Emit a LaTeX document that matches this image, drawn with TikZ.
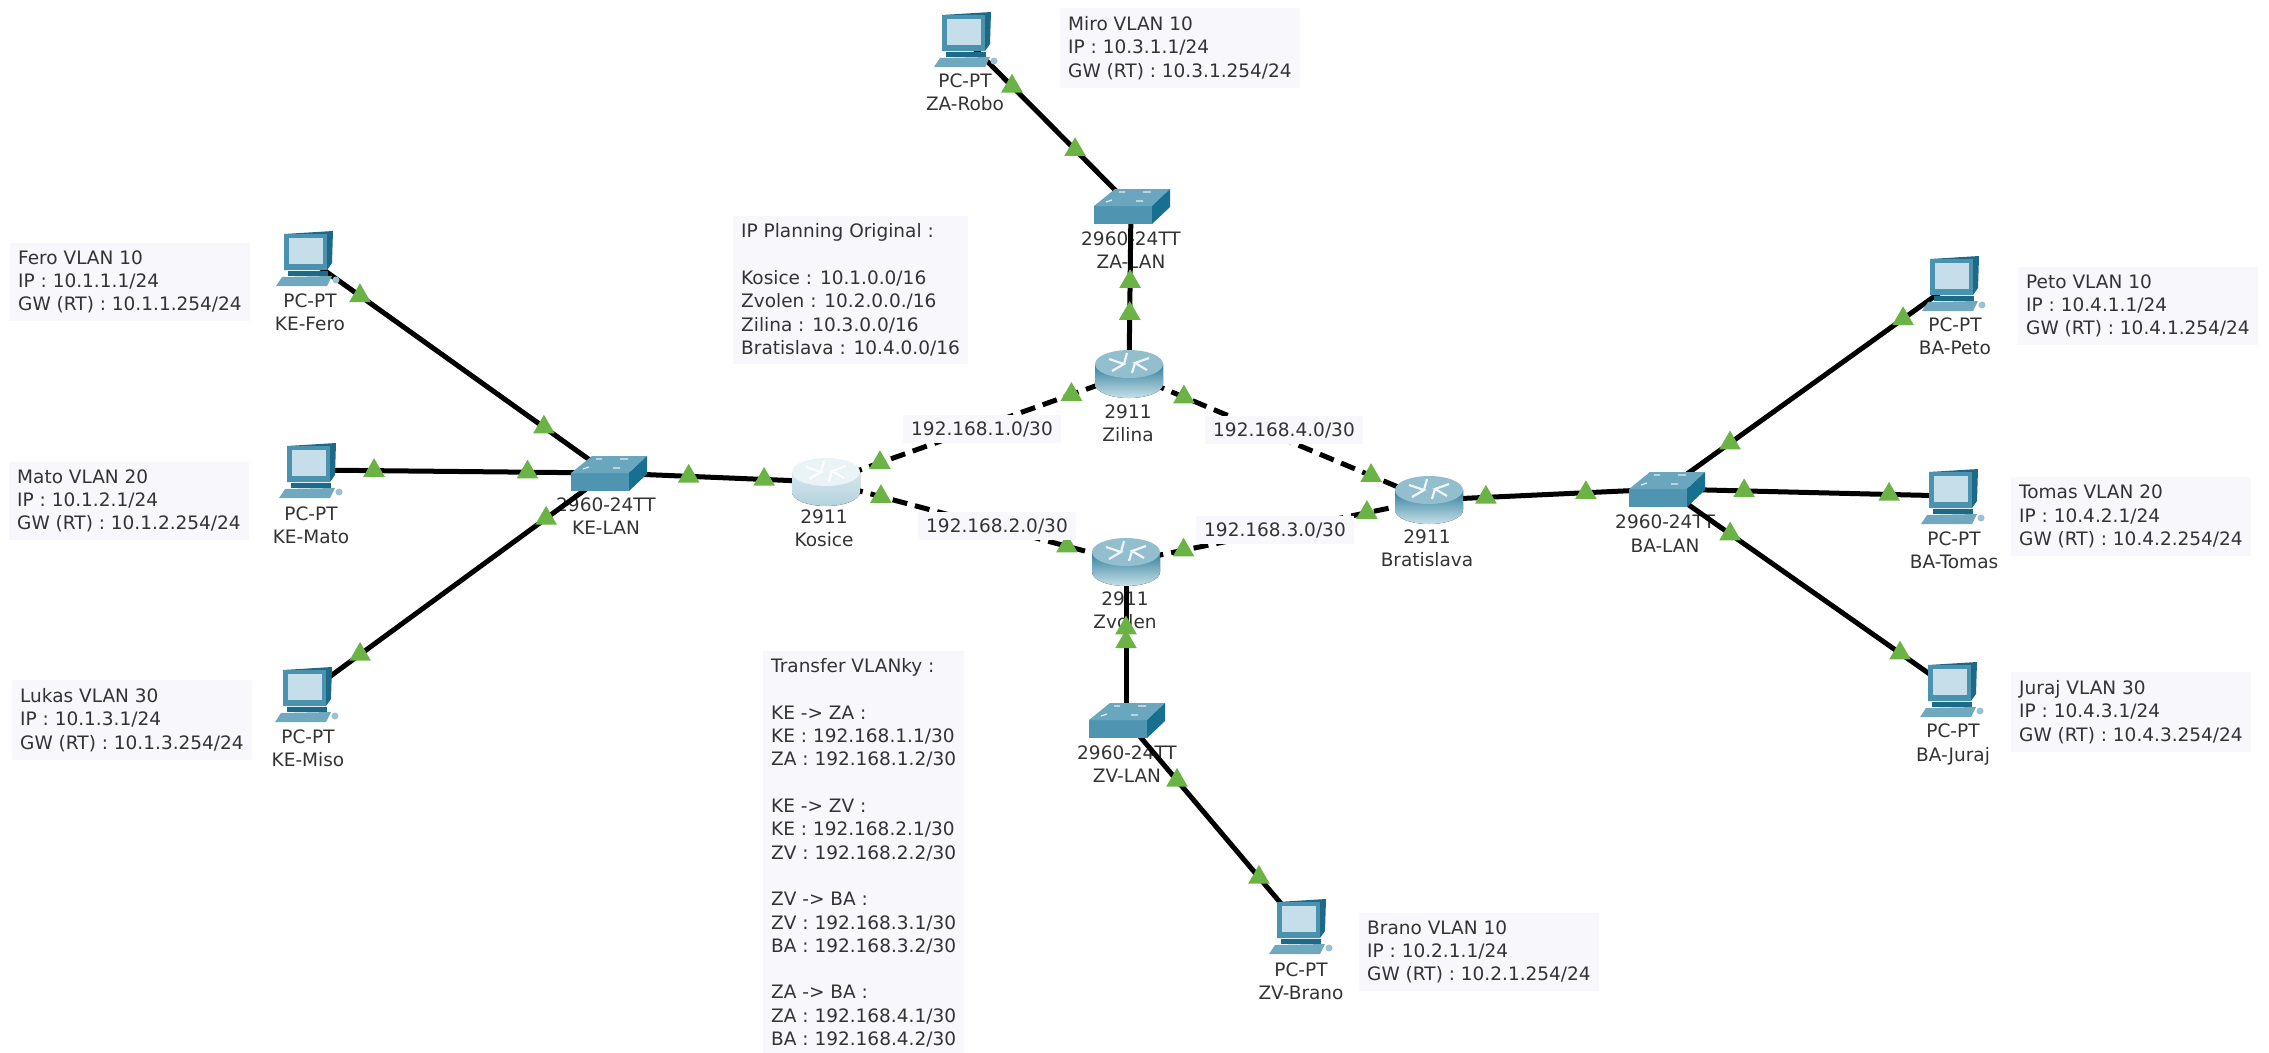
\documentclass[tikz,border=0pt]{standalone}
\usepackage{fontspec}
\setmainfont{DejaVu Sans}
\usetikzlibrary{shapes.geometric}
\definecolor{boxbg}{HTML}{F7F7FC}
\definecolor{txt}{HTML}{333333}
\definecolor{trig}{HTML}{6AB344}
\definecolor{pcfront}{HTML}{4A92AE}
\definecolor{pcside}{HTML}{1C6A88}
\definecolor{pcscreen}{HTML}{C6DEE9}
\definecolor{pckey}{HTML}{6FA8BF}
\definecolor{swtop}{HTML}{6AA6BD}
\definecolor{swfront}{HTML}{4F95B2}
\definecolor{swside}{HTML}{17708F}
\definecolor{paleA}{HTML}{D5E6EC}
\definecolor{paleB}{HTML}{B3D2DD}
\definecolor{paleC}{HTML}{EAF3F6}
\definecolor{rtA}{HTML}{2F7F9C}
\definecolor{rtB}{HTML}{C8E0E8}
\definecolor{rtC}{HTML}{93BECD}
\tikzset{
  x=1pt,y=-1pt,
  dev/.style={inner sep=0pt,minimum size=1pt},
  wire/.style={line width=5pt,black},
  dashwire/.style={wire,dash pattern=on 15pt off 8pt},
  tri/.style={regular polygon,regular polygon sides=3,fill=trig,inner sep=0pt,minimum size=25pt},
  lbl/.style={align=center,text=txt,inner sep=0pt,font=\fontsize{18.5}{23.4}\selectfont},
  note/.style={align=left,anchor=west,text=txt,fill=boxbg,inner sep=8pt,font=\fontsize{18.5}{23.3}\selectfont},
  net/.style={text=txt,fill=boxbg,inner xsep=8pt,inner ysep=6pt,font=\fontsize{18.5}{23.3}\selectfont},
  pics/pc/.style={code={
    \fill[pcside] (-23,-24) -- (26,-27) -- (25,5) -- (20,12) -- (-23,12) -- cycle;
    \fill[pcfront] (-23,-24) -- (20,-24) -- (20,12) -- (-23,12) -- cycle;
    \fill[pcscreen] (-18,-20) rectangle (16,6);
    \fill[pcside] (-19,13) rectangle (21,18);
    \fill[pckey] (-31,28) -- (-25,19) -- (25,18) -- (20,28) -- cycle;
    \fill[pckey!70] (29,22) circle (3.5);
  }},
  pics/sw/.style={code={
    \fill[swfront] (-37,0) rectangle (21,18);
    \fill[swtop] (-37,0) -- (-16,-17) -- (39,-17) -- (21,0) -- cycle;
    \fill[swside] (21,0) -- (39,-17) -- (39,1) -- (21,18) -- cycle;
    \draw[white!80!swtop,line width=1.2pt] (-12,-14) -- (-6,-14) (12,-14) -- (20,-14) (-25,-4) -- (-19,-6) (5,-5) -- (12,-5);
  }},
  pics/rtr/.style n args={3}{code={
    \fill[top color=#1,bottom color=#2] (-34,-10) -- (-34,10) arc[start angle=180,end angle=0,x radius=34,y radius=14] -- (34,-10) -- cycle;
    \fill[#3] (0,-10) ellipse[x radius=34,y radius=14];
    \draw[white!85!#3,line width=2.2pt]
      (-20,-15) -- (-5,-10) -- (-17,-3) (20,-16) -- (6,-11) -- (18,-4)
      (-2,-21) -- (-5,-10) (3,-1) -- (6,-11);
  }},
}
\newcommand\lnk[5][wire]{\draw[#1] (#2.center) -- node[tri,pos=#4,name=#2-#3-a]{} node[tri,pos=#5,name=#2-#3-b]{} (#3.center);}
\begin{document}
\begin{tikzpicture}
\useasboundingbox (0,0) rectangle (2269,1052);
% anchors
\foreach \n/\p in {kefero/{307,258},kemato/{310,470},kemiso/{306,694},zarobo/{965,39},bapeto/{1953,283},batomas/{1952,496},bajuraj/{1951,689},zvbrano/{1300,926},kelan/{608,473},zalan/{1131,206},zvlan/{1126,720},balan/{1666,489},kosice/{826,482},zilina/{1129,374},bratislava/{1429,500},zvolen/{1126,562}}
  {\node[dev] (\n) at (\p) {};}
% notes
\node[note] (nfero) at (10,282) {Fero VLAN 10\\IP : 10.1.1.1/24\\GW (RT) : 10.1.1.254/24};
\node[note] (nmato) at (9,501) {Mato VLAN 20\\IP : 10.1.2.1/24\\GW (RT) : 10.1.2.254/24};
\node[note] (nlukas) at (12,720) {Lukas VLAN 30\\IP : 10.1.3.1/24\\GW (RT) : 10.1.3.254/24};
\node[note] (nmiro) at (1060,48) {Miro VLAN 10\\IP : 10.3.1.1/24\\GW (RT) : 10.3.1.254/24};
\node[note] (npeto) at (2018,306) {Peto VLAN 10\\IP : 10.4.1.1/24\\GW (RT) : 10.4.1.254/24};
\node[note] (ntomas) at (2011,516.5) {Tomas VLAN 20\\IP : 10.4.2.1/24\\GW (RT) : 10.4.2.254/24};
\node[note] (njuraj) at (2011,712) {Juraj VLAN 30\\IP : 10.4.3.1/24\\GW (RT) : 10.4.3.254/24};
\node[note] (nbrano) at (1359,952) {Brano VLAN 10\\IP : 10.2.1.1/24\\GW (RT) : 10.2.1.254/24};
\node[note] (nplan) at (733,290) {IP Planning Original :\\[23.3pt]Kosice : 10.1.0.0/16\\Zvolen : 10.2.0.0./16\\Zilina : 10.3.0.0/16\\Bratislava : 10.4.0.0/16};
\node[note] (ntrans) at (763,853) {Transfer VLANky :\\[23.3pt]KE -> ZA :\\KE : 192.168.1.1/30\\ZA : 192.168.1.2/30\\[23.3pt]KE -> ZV :\\KE : 192.168.2.1/30\\ZV : 192.168.2.2/30\\[23.3pt]ZV -> BA :\\ZV : 192.168.3.1/30\\BA : 192.168.3.2/30\\[23.3pt]ZA -> BA :\\ZA : 192.168.4.1/30\\BA : 192.168.4.2/30};
% device labels
\node[lbl] (lfero) at (310,312) {PC-PT\\KE-Fero};
\node[lbl] (lmato) at (311,525) {PC-PT\\KE-Mato};
\node[lbl] (lmiso) at (308,748.5) {PC-PT\\KE-Miso};
\node[lbl] (lrobo) at (965,92.5) {PC-PT\\ZA-Robo};
\node[lbl] (lpeto) at (1955,336.5) {PC-PT\\BA-Peto};
\node[lbl] (ltomas) at (1954,550) {PC-PT\\BA-Tomas};
\node[lbl] (ljuraj) at (1953,744.5) {PC-PT\\BA-Juraj};
\node[lbl] (lbrano) at (1301,981) {PC-PT\\ZV-Brano};
\node[lbl] (lkelan) at (606,516) {2960-24TT\\KE-LAN};
\node[lbl] (lzalan) at (1131,250) {2960-24TT\\ZA-LAN};
\node[lbl] (lzvlan) at (1127,764) {2960-24TT\\ZV-LAN};
\node[lbl] (lbalan) at (1665,533.5) {2960-24TT\\BA-LAN};
\node[lbl] (lkos) at (824,528) {2911\\Kosice};
\node[lbl] (lzil) at (1128,423) {2911\\Zilina};
\node[lbl] (lbra) at (1427,548) {2911\\Bratislava};
\node[lbl] (lzvo) at (1125,610) {2911\\Zvolen};
% links
\lnk{kefero}{kelan}{.176}{.787}
\lnk{kemato}{kelan}{.215}{.73}
\lnk{kemiso}{kelan}{.179}{.795}
\lnk{kelan}{kosice}{.37}{.716}
\lnk[dashwire]{kosice}{zilina}{.178}{.81}
\lnk[dashwire]{zilina}{bratislava}{.183}{.807}
\lnk[dashwire]{kosice}{zvolen}{.183}{.803}
\lnk[dashwire]{zvolen}{bratislava}{.19}{.795}
\lnk{bratislava}{balan}{.24}{.662}
\lnk{balan}{bapeto}{.223}{.826}
\lnk{balan}{batomas}{.273}{.78}
\lnk{balan}{bajuraj}{.225}{.821}
\lnk{zalan}{zilina}{.45}{.64}
\lnk{zarobo}{zalan}{.283}{.663}
\lnk{zvolen}{zvlan}{.418}{.506}
\lnk{zvlan}{zvbrano}{.293}{.764}
% icons
\foreach \n in {kefero,kemato,kemiso,zarobo,bapeto,batomas,bajuraj,zvbrano} {\pic at (\n.center) {pc};}
\foreach \n in {kelan,zalan,zvlan,balan} {\pic at (\n.center) {sw};}
\pic at (kosice.center) {rtr={paleA}{paleB}{paleC}};
\foreach \n in {zilina,bratislava,zvolen} {\pic at (\n.center) {rtr={rtA}{rtB}{rtC}};}
% net labels
\node[net] (n1) at (982,429) {192.168.1.0/30};
\node[net] (n4) at (1284,430) {192.168.4.0/30};
\node[net] (n2) at (997,526) {192.168.2.0/30};
\node[net] (n3) at (1275,530) {192.168.3.0/30};
\end{tikzpicture}
\end{document}
